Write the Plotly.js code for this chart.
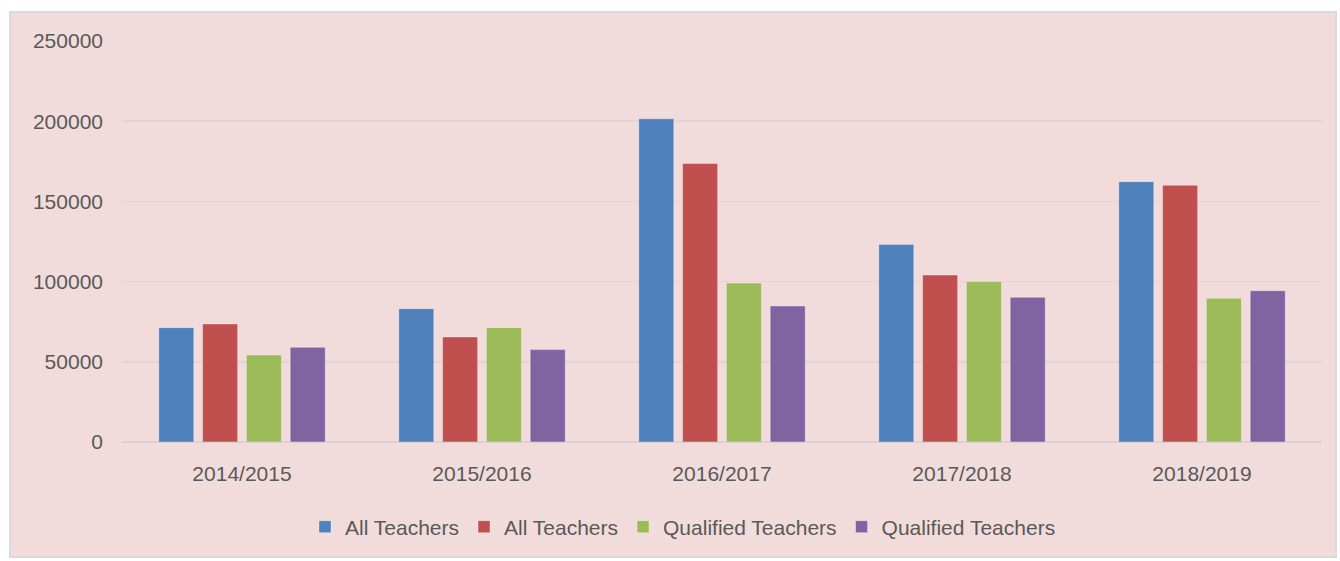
<!DOCTYPE html>
<html>
<head>
<meta charset="utf-8">
<script src="https://cdn.plot.ly/plotly-3.0.1.min.js"></script>
<style>html,body{margin:0;padding:0;background:#fff;}#chart{width:1340px;height:561px;}</style>
</head>
<body>
<div id="chart"></div>
<script>
var categories = ["2014/2015", "2015/2016", "2016/2017", "2017/2018", "2018/2019"];
var seriesNames = ["All Teachers", "All Teachers", "Qualified Teachers", "Qualified Teachers"];
var allTeachersA = [71300, 83100, 201500, 123200, 162300];
var allTeachersB = [73600, 65500, 173700, 104100, 160000];
var qualifiedA = [54200, 71300, 99100, 100000, 89600];
var qualifiedB = [59000, 57600, 84800, 90200, 94300];
var colors = ["#4f81bd", "#c0504d", "#9bbb59", "#8064a2"];

var seriesValues = [allTeachersA, allTeachersB, qualifiedA, qualifiedB];
var traces = seriesValues.map(function (vals, i) {
  return {
    type: "bar",
    name: seriesNames[i],
    x: categories,
    y: vals,
    marker: { color: colors[i], line: { color: "rgba(255,255,255,0.35)", width: 1 } },
    hoverinfo: "x+y+name"
  };
});

var W = 1340, H = 561, L = 122, R = 18, T = 41, B = 119;
var pw = W - L - R, ph = H - T - B;
function px(x) { return (x - L) / pw; }
function py(y) { return (H - B - y) / ph; }

var layout = {
  width: W, height: H,
  margin: { l: L, r: R, t: T, b: B, pad: 0 },
  paper_bgcolor: "#ffffff",
  plot_bgcolor: "rgba(0,0,0,0)",
  font: { family: "Liberation Sans, Arial, sans-serif", size: 21, color: "#595959" },
  barmode: "group",
  bargap: 0.27,
  bargroupgap: 0.2,
  showlegend: true,
  legend: {
    orientation: "h",
    x: px(683), xanchor: "center",
    y: py(527), yanchor: "middle",
    bgcolor: "rgba(0,0,0,0)",
    font: { size: 21, color: "#595959" },
    itemclick: false
  },
  xaxis: {
    type: "category",
    showgrid: false,
    showline: false,
    ticks: "",
    ticklabelstandoff: 17,
    tickfont: { size: 21, color: "#595959" }
  },
  yaxis: {
    range: [0, 250000],
    tickvals: [0, 50000, 100000, 150000, 200000, 250000],
    ticktext: ["0", "50000", "100000", "150000", "200000", "250000"],
    showgrid: true,
    gridcolor: "#e2d4d4",
    gridwidth: 1.5,
    zeroline: true,
    zerolinecolor: "#ddd0d0",
    zerolinewidth: 2,
    showline: false,
    ticks: "",
    ticklabelstandoff: 18,
    tickfont: { size: 21, color: "#595959" }
  },
  shapes: [{
    type: "rect", xref: "paper", yref: "paper", layer: "below",
    x0: px(10), x1: px(1336), y0: py(557), y1: py(12),
    fillcolor: "#f2dcdb",
    line: { color: "#d9d9d9", width: 2 }
  }]
};

Plotly.newPlot("chart", traces, layout, { displayModeBar: false, staticPlot: true });
</script>
</body>
</html>
